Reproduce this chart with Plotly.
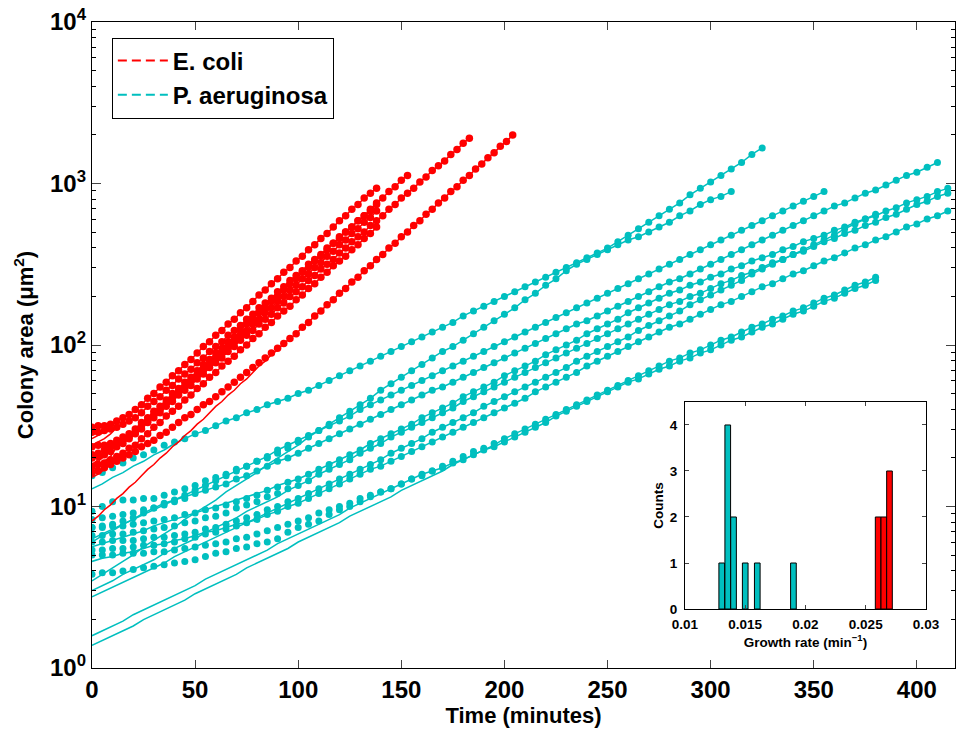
import numpy as np
import plotly.graph_objects as go

RED = "#ff0000"
CYAN = "#00bfbf"
FONT = "Liberation Sans, Arial, Helvetica, sans-serif"

# Sampling interval between frames (minutes)
ECOLI_STEP = 3
PAER_STEP = 5

# ---- E. coli colonies: log10 colony area (um^2), one value per frame ----
ecoli_1 = [1.49,1.50,1.50,1.51,1.53,1.55,1.57,1.60,1.63,1.67,1.70,1.74,1.77,1.81,1.84,1.88,1.91,1.95,1.99,2.02,
           2.06,2.09,2.13,2.16,2.20,2.23,2.27,2.31,2.34,2.38,2.41,2.45,2.48,2.52,2.55,2.59,2.62,2.66,2.69,2.73,
           2.77,2.80,2.84,2.87,2.91,2.94,2.97]
ecoli_2 = [1.37,1.38,1.38,1.39,1.41,1.43,1.45,1.48,1.52,1.55,1.59,1.62,1.66,1.70,1.73,1.77,1.80,1.84,1.88,1.91,
           1.95,1.98,2.02,2.05,2.09,2.13,2.16,2.20,2.23,2.27,2.30,2.34,2.38,2.41,2.45,2.48,2.52,2.55,2.59,2.63,
           2.66,2.70,2.73,2.77,2.80,2.84,2.88,2.91,2.95,2.98,3.02,3.05]
ecoli_3 = [1.32,1.33,1.35,1.37,1.39,1.41,1.43,1.46,1.50,1.53,1.57,1.60,1.64,1.67,1.71,1.74,1.78,1.81,1.85,1.88,
           1.92,1.95,1.99,2.02,2.06,2.09,2.13,2.16,2.20,2.23,2.27,2.30,2.34,2.37,2.41,2.44,2.48,2.51,2.55,2.58,
           2.62,2.65,2.69,2.72,2.76,2.79,2.83]
ecoli_4 = [1.30,1.31,1.32,1.34,1.37,1.39,1.42,1.45,1.48,1.52,1.55,1.58,1.62,1.65,1.69,1.72,1.75,1.79,1.82,1.86,
           1.89,1.92,1.96,1.99,2.03,2.06,2.09,2.13,2.16,2.19,2.23,2.26,2.30,2.33,2.36,2.40,2.43,2.47,2.50,2.53,
           2.57,2.60,2.64,2.67,2.70,2.74,2.77,2.80,2.84,2.87,2.91,2.94,2.97,3.01,3.04,3.08,3.11,3.14,3.18,3.21,
           3.25,3.28]
ecoli_5 = [1.25,1.26,1.27,1.29,1.31,1.33,1.36,1.38,1.42,1.45,1.49,1.52,1.56,1.59,1.62,1.66,1.69,1.73,1.76,1.80,
           1.83,1.87,1.90,1.93,1.97,2.00,2.04,2.07,2.11,2.14,2.18,2.21,2.24,2.28,2.31,2.35,2.38,2.42,2.45,2.49,
           2.52,2.55,2.59,2.62,2.66,2.69,2.73]
ecoli_6 = [1.46,1.46,1.47,1.48,1.49,1.51,1.53,1.55,1.58,1.62,1.65,1.68,1.72,1.75,1.79,1.82,1.85,1.89,1.92,1.96,
           1.99,2.02,2.06,2.09,2.12,2.16,2.19,2.23,2.26,2.29,2.33,2.36,2.40,2.43,2.46,2.50,2.53,2.56,2.60,2.63,
           2.67,2.70,2.73,2.77,2.80,2.83,2.87]
ecoli_7 = [1.21,1.22,1.24,1.26,1.28,1.30,1.32,1.34,1.37,1.39,1.41,1.44,1.46,1.49,1.52,1.55,1.57,1.60,1.63,1.65,
           1.68,1.71,1.74,1.77,1.80,1.83,1.86,1.89,1.92,1.95,1.98,2.01,2.04,2.07,2.11,2.14,2.18,2.21,2.25,2.28,
           2.32,2.35,2.39,2.42,2.46,2.49,2.53,2.56,2.60,2.63,2.67,2.70,2.74,2.77,2.81,2.84,2.88,2.91,2.95,2.98,
           3.02,3.05,3.09,3.12,3.16,3.19,3.23,3.26,3.30]
# early part of each solid (fitted) curve, before it joins the dots
ecoli_1_fit_head = [1.42,1.44,1.46,1.49]
ecoli_2_fit_head = [1.26,1.29,1.32,1.35,1.38,1.41]
ecoli_3_fit_head = [1.25,1.28,1.31,1.34]
ecoli_4_fit_head = [1.22,1.25,1.28,1.31]
ecoli_5_fit_head = [1.18,1.20,1.23,1.26]
ecoli_6_fit_head = [1.38,1.40,1.42,1.45]
ecoli_7_fit_head = [0.91,0.94,0.98,1.01,1.05,1.08,1.12,1.15,1.19,1.23,1.26,1.30,1.33,1.37,1.40,1.44,1.47,1.51,1.54,
                    1.58,1.62,1.65,1.69,1.72,1.76,1.79,1.83,1.87,1.90,1.94,1.97]

# ---- P. aeruginosa colonies: log10 colony area (um^2), one value per frame ----
paer_1 = [1.19,1.21,1.24,1.27,1.30,1.32,1.35,1.38,1.40,1.42,1.45,1.47,1.50,1.53,1.55,1.58,1.60,1.63,1.65,1.67,
          1.70,1.72,1.75,1.78,1.81,1.84,1.87,1.90,1.93,1.96,1.99,2.02,2.05,2.08,2.11,2.14,2.18,2.21,2.24,2.27,
          2.30,2.33,2.36,2.39,2.42,2.45,2.48,2.51,2.54,2.57,2.60,2.64,2.68,2.72,2.76,2.80,2.84,2.88,2.93,2.97,
          3.01,3.05,3.09,3.13,3.18,3.22]
paer_2 = [0.97,1.00,1.03,1.04,1.04,1.05,1.05,1.07,1.09,1.11,1.13,1.16,1.18,1.20,1.23,1.25,1.28,1.30,1.33,1.36,
          1.40,1.43,1.47,1.51,1.55,1.59,1.63,1.67,1.72,1.76,1.80,1.84,1.88,1.92,1.96,1.99,2.03,2.07,2.11,2.15,
          2.19,2.23,2.28,2.32,2.37,2.41,2.46,2.50,2.53,2.56,2.59,2.62,2.65,2.67,2.70,2.73,2.76,2.80,2.83,2.87,
          2.90,2.92,2.95]
paer_3 = [0.87,0.88,0.89,0.91,0.93,0.96,0.99,1.02,1.04,1.07,1.10,1.13,1.16,1.19,1.22,1.25,1.28,1.31,1.35,1.38,
          1.41,1.44,1.47,1.50,1.53,1.56,1.60,1.63,1.66,1.69,1.72,1.75,1.78,1.81,1.84,1.87,1.90,1.93,1.96,1.99,
          2.02,2.05,2.08,2.11,2.14,2.17,2.20,2.23,2.26,2.29,2.32,2.35,2.38,2.41,2.44,2.47,2.50,2.53,2.56,2.59,
          2.62,2.65,2.68,2.71,2.74,2.77,2.80,2.83,2.86,2.89,2.92,2.95]
paer_4 = [0.92,0.93,0.94,0.95,0.96,0.98,0.99,1.01,1.03,1.05,1.08,1.10,1.12,1.14,1.17,1.19,1.22,1.25,1.28,1.30,
          1.33,1.36,1.39,1.42,1.45,1.48,1.51,1.54,1.57,1.60,1.63,1.66,1.69,1.72,1.74,1.77,1.80,1.83,1.86,1.89,
          1.92,1.95,1.98,2.01,2.04,2.07,2.10,2.13,2.15,2.18,2.21,2.24,2.27,2.30,2.33,2.36,2.39,2.41,2.44,2.47,
          2.50,2.53,2.56,2.59,2.62,2.65,2.68,2.71,2.74,2.77,2.80,2.83,2.86,2.88,2.91,2.94,2.96,2.99,3.02,3.05,
          3.07,3.10,3.13]
paer_5 = [0.87,0.87,0.88,0.88,0.89,0.90,0.91,0.92,0.93,0.95,0.96,0.98,0.99,1.01,1.03,1.05,1.07,1.10,1.12,1.15,
          1.17,1.20,1.23,1.26,1.29,1.32,1.35,1.39,1.42,1.45,1.48,1.51,1.55,1.58,1.61,1.64,1.68,1.71,1.74,1.77,
          1.81,1.84,1.87,1.90,1.94,1.97,2.00,2.03,2.07,2.10,2.13,2.16,2.20,2.23,2.26,2.29,2.32,2.34,2.37,2.39,
          2.42,2.44,2.47,2.49,2.52,2.54,2.56,2.59,2.61,2.64,2.66,2.68,2.71,2.73,2.76,2.78,2.80,2.83,2.85,2.88,
          2.90,2.92,2.95,2.97]
paer_6 = [0.82,0.82,0.83,0.83,0.84,0.85,0.86,0.87,0.88,0.90,0.91,0.93,0.94,0.96,0.99,1.01,1.03,1.06,1.08,1.11,
          1.13,1.16,1.20,1.23,1.26,1.29,1.33,1.36,1.39,1.43,1.46,1.49,1.52,1.55,1.58,1.61,1.65,1.68,1.71,1.74,
          1.77,1.80,1.83,1.86,1.89,1.92,1.95,1.98,2.01,2.04,2.07,2.10,2.13,2.16,2.19,2.22,2.25,2.27,2.30,2.32,
          2.35,2.38,2.40,2.43,2.45,2.48,2.51,2.53,2.56,2.58,2.61,2.64,2.66,2.69,2.71,2.74,2.76,2.79,2.81,2.84,
          2.87,2.89,2.92,2.94]
paer_7 = [0.78,0.78,0.79,0.79,0.79,0.80,0.81,0.81,0.82,0.83,0.84,0.86,0.87,0.89,0.91,0.93,0.95,0.98,1.00,1.03,
          1.05,1.08,1.11,1.14,1.17,1.20,1.23,1.26,1.29,1.33,1.36,1.39,1.42,1.46,1.49,1.52,1.55,1.58,1.62,1.65,
          1.68,1.71,1.74,1.77,1.80,1.83,1.86,1.90,1.93,1.96,1.99,2.02,2.05,2.09,2.12,2.15,2.18,2.21,2.25,2.28,
          2.31,2.34,2.37,2.40,2.44,2.47,2.50,2.53,2.56,2.59,2.62,2.65,2.68,2.72,2.75,2.78,2.81]
paer_8 = [0.73,0.73,0.74,0.74,0.75,0.76,0.76,0.77,0.78,0.80,0.81,0.83,0.84,0.86,0.88,0.90,0.92,0.95,0.97,1.00,
          1.02,1.05,1.08,1.11,1.14,1.17,1.20,1.23,1.25,1.28,1.31,1.34,1.37,1.40,1.43,1.46,1.49,1.52,1.55,1.58,
          1.61,1.64,1.67,1.71,1.74,1.77,1.80,1.83,1.87,1.90,1.93,1.96,1.99,2.02,2.05,2.08,2.11,2.13,2.16,2.19,
          2.22,2.25,2.27,2.30,2.33,2.36,2.38,2.41,2.44,2.46,2.49,2.52,2.54,2.57,2.60,2.62,2.65,2.67,2.70,2.73,
          2.75,2.78,2.80,2.83]
paer_9 = [0.58,0.59,0.59,0.60,0.61,0.62,0.63,0.64,0.65,0.66,0.67,0.69,0.71,0.72,0.74,0.75,0.77,0.78,0.80,0.84,
          0.87,0.89,0.91,0.95,0.98,1.00,1.03,1.06,1.09,1.11,1.14,1.17,1.20,1.22,1.24,1.27,1.29,1.32,1.35,1.37,
          1.40,1.43,1.46,1.49,1.52,1.56,1.59,1.62,1.65,1.68,1.71,1.74,1.77,1.79,1.82,1.85,1.87,1.90,1.92,1.95,
          1.97,2.00,2.03,2.05,2.08,2.11,2.13,2.16,2.19,2.21,2.24,2.27,2.29,2.32,2.35,2.37,2.40]
paer_10 = [0.70,0.70,0.70,0.71,0.71,0.71,0.72,0.72,0.73,0.74,0.75,0.76,0.77,0.78,0.80,0.81,0.83,0.85,0.87,0.89,
           0.91,0.93,0.96,0.98,1.00,1.02,1.05,1.07,1.09,1.11,1.14,1.17,1.19,1.22,1.25,1.28,1.31,1.34,1.36,1.39,
           1.42,1.45,1.48,1.51,1.54,1.57,1.60,1.63,1.66,1.69,1.72,1.75,1.78,1.81,1.84,1.87,1.90,1.92,1.95,1.97,
           2.00,2.03,2.05,2.08,2.11,2.13,2.16,2.18,2.21,2.23,2.26,2.29,2.31,2.34,2.37,2.39,2.42]
paer_1_fit_head = [1.11,1.14,1.18,1.21,1.25,1.28,1.32,1.35,1.39]
paer_2_fit_head = [0.54,0.58,0.62,0.66,0.70,0.75,0.79,0.83,0.87,0.92,0.96,1.00,1.04,1.09,1.13,1.17,1.21,1.26,1.30,
                   1.34,1.38]
paer_3_fit_head = [0.78,0.82,0.85,0.89,0.92]
paer_4_fit_head = [0.80,0.83,0.86,0.89,0.92,0.95,0.98,1.01,1.04,1.06,1.08,1.10]
paer_5_fit_head = [0.75,0.77,0.79,0.81,0.83,0.85,0.88,0.90,0.92,0.94,0.96,0.98,1.00,1.02,1.04,1.06,1.08,1.10,1.13,1.15]
paer_6_fit_head = [0.48,0.51,0.54,0.58,0.61,0.64,0.67,0.71,0.74,0.77,0.80,0.84,0.87,0.90,0.93,0.97,1.00,1.03,1.06,1.10]
paer_7_fit_head = [0.44,0.47,0.50,0.53,0.56,0.59,0.62,0.65,0.69,0.72,0.75,0.78,0.81,0.84,0.87,0.90,0.93,0.96,0.99,
                   1.02,1.05,1.08,1.11,1.14]
paer_8_fit_head = [0.66,0.68,0.69,0.71,0.72,0.74,0.76,0.77,0.79,0.80,0.82,0.84,0.85,0.87,0.89,0.90]
paer_9_fit_head = [0.20,0.23,0.26,0.29,0.33,0.36,0.39,0.42,0.45,0.48,0.51,0.55,0.58,0.61,0.64,0.67,0.70,0.73,0.77,
                   0.80,0.83,0.86,0.89,0.92,0.95,0.99,1.02,1.05,1.08,1.11,1.14,1.17]
paer_10_fit_head = [0.14,0.17,0.20,0.23,0.26,0.30,0.33,0.36,0.39,0.42,0.46,0.49,0.52,0.55,0.58,0.62,0.65,0.68,0.71,
                    0.74,0.78,0.81,0.84,0.87,0.90,0.94,0.97,1.00,1.03,1.06,1.10,1.13,1.16,1.19,1.22,1.26,1.29,
                    1.32,1.35,1.38]

# ---- inset histogram of growth rates ----
paer_rate_bins = [0.01305, 0.01355, 0.01403, 0.01500, 0.01600, 0.01900]
paer_rate_counts = [1, 4, 2, 1, 1, 1]
ecoli_rate_bins = [0.02603, 0.02650, 0.02697]
ecoli_rate_counts = [2, 2, 3]
RATE_BIN_WIDTH = 0.00047

x_tick_vals = [0, 50, 100, 150, 200, 250, 300, 350, 400]
y_tick_vals = [1, 10, 100, 1000, 10000]
y_tick_text = ["10<sup>0</sup>", "10<sup>1</sup>", "10<sup>2</sup>", "10<sup>3</sup>", "10<sup>4</sup>"]
inset_x_ticks = [0.01, 0.015, 0.02, 0.025, 0.03]
inset_x_text = ["0.01", "0.015", "0.02", "0.025", "0.03"]
inset_y_ticks = [0, 1, 2, 3, 4]

ecoli_series = [(ecoli_1, ecoli_1_fit_head), (ecoli_2, ecoli_2_fit_head), (ecoli_3, ecoli_3_fit_head),
                (ecoli_4, ecoli_4_fit_head), (ecoli_5, ecoli_5_fit_head), (ecoli_6, ecoli_6_fit_head),
                (ecoli_7, ecoli_7_fit_head)]
paer_series = [(paer_1, paer_1_fit_head), (paer_2, paer_2_fit_head), (paer_3, paer_3_fit_head),
               (paer_4, paer_4_fit_head), (paer_5, paer_5_fit_head), (paer_6, paer_6_fit_head),
               (paer_7, paer_7_fit_head), (paer_8, paer_8_fit_head), (paer_9, paer_9_fit_head),
               (paer_10, paer_10_fit_head)]

fig = go.Figure()

# legend entries (dashed samples)
fig.add_trace(go.Scatter(x=[None], y=[None], mode="lines", name="E. coli",
                         line=dict(color=RED, width=2, dash="9px,5px")))
fig.add_trace(go.Scatter(x=[None], y=[None], mode="lines", name="P. aeruginosa",
                         line=dict(color=CYAN, width=2, dash="9px,5px")))


def add_group(series, step, color, msize):
    for vals, head in series:
        t = step * np.arange(len(vals))
        fit_vals = list(head) + list(vals[len(head):])
        fig.add_trace(go.Scatter(x=t, y=np.power(10.0, fit_vals), mode="lines",
                                 line=dict(color=color, width=1.5), showlegend=False, hoverinfo="skip"))
        fig.add_trace(go.Scatter(x=t, y=np.power(10.0, vals), mode="markers",
                                 marker=dict(color=color, size=msize), showlegend=False))


add_group(paer_series, PAER_STEP, CYAN, 7)
add_group(ecoli_series, ECOLI_STEP, RED, 7.5)

fig.add_trace(go.Bar(x=paer_rate_bins, y=paer_rate_counts, width=RATE_BIN_WIDTH,
                     marker=dict(color=CYAN, line=dict(color="black", width=1)),
                     xaxis="x2", yaxis="y2", showlegend=False))
fig.add_trace(go.Bar(x=ecoli_rate_bins, y=ecoli_rate_counts, width=RATE_BIN_WIDTH,
                     marker=dict(color=RED, line=dict(color="black", width=1)),
                     xaxis="x2", yaxis="y2", showlegend=False))

fig.update_layout(
    width=957, height=733,
    margin=dict(l=92, r=2, t=22, b=65, autoexpand=False),
    paper_bgcolor="white", plot_bgcolor="white",
    font=dict(family=FONT, color="black"),
    barmode="overlay",
    legend=dict(x=0.023, y=0.976, xanchor="left", yanchor="top",
                bgcolor="white", bordercolor="black", borderwidth=1,
                font=dict(size=24, family=FONT, weight="bold"), tracegroupgap=2,
                itemwidth=50),
    xaxis=dict(range=[0, 418.5], tickvals=x_tick_vals, ticks="inside", ticklen=8,
               showline=True, linecolor="black", linewidth=1.3, mirror="ticks",
               showgrid=False, zeroline=False, automargin=False,
               tickfont=dict(size=24, family=FONT, weight="bold"),
               title=dict(text="Time (minutes)", standoff=4,
                          font=dict(size=22, family=FONT, weight="bold"))),
    yaxis=dict(type="log", range=[0, 4], tickvals=y_tick_vals, ticktext=y_tick_text,
               ticks="inside", ticklen=9, automargin=False, ticklabeloverflow="allow",
               minor=dict(ticks="inside", ticklen=4, dtick="D1", showgrid=False, tickcolor="black"),
               showline=True, linecolor="black", linewidth=1.3, mirror="ticks",
               showgrid=False, zeroline=False,
               tickfont=dict(size=24, family=FONT, weight="bold"),
               title=dict(text="Colony area (μm<sup>2</sup>)", standoff=10,
                          font=dict(size=22, family=FONT, weight="bold"))),
    xaxis2=dict(domain=[0.6871, 0.9664], anchor="y2", range=[0.01, 0.03],
                tickvals=inset_x_ticks, ticktext=inset_x_text, ticks="inside", ticklen=4,
                showline=True, linecolor="black", linewidth=1.2, mirror="ticks",
                showgrid=False, zeroline=False, automargin=False, ticklabelstandoff=3,
                tickfont=dict(size=13.5, family=FONT, weight="bold"),
                title=dict(text="Growth rate (min<sup>−1</sup>)", standoff=0,
                           font=dict(size=13.5, family=FONT, weight="bold"))),
    yaxis2=dict(domain=[0.0913, 0.4118], anchor="x2", range=[0, 4.5],
                tickvals=inset_y_ticks, ticks="inside", ticklen=4,
                showline=True, linecolor="black", linewidth=1.2, mirror="ticks",
                showgrid=False, zeroline=False, automargin=False, ticklabelstandoff=4,
                tickfont=dict(size=13.5, family=FONT, weight="bold"),
                title=dict(text="Counts", standoff=2,
                           font=dict(size=13.5, family=FONT, weight="bold"))),
)

# remove the browser's default 8 px body margin so the figure sits at the page origin
fig.write_html("out.html", config={"displayModeBar": False},
               post_script="document.body.style.margin='0px';")
